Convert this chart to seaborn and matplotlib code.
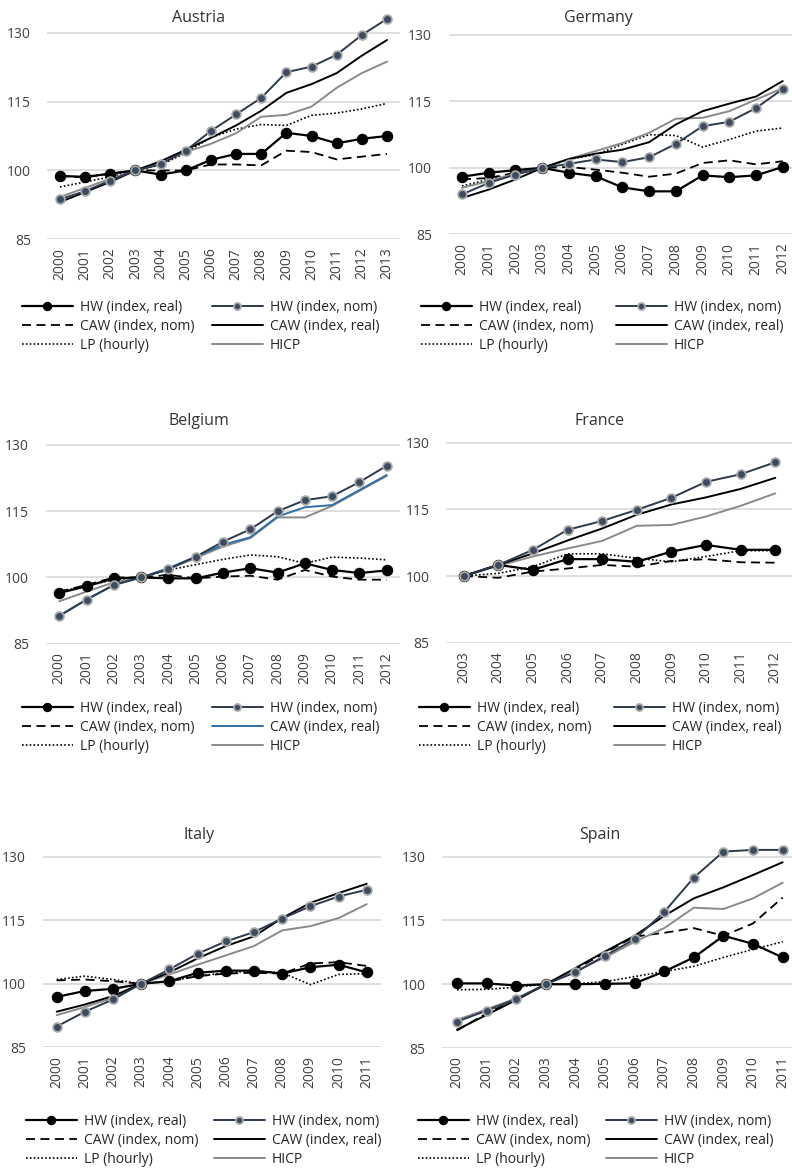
import numpy as np
import pandas as pd
import matplotlib
matplotlib.use("Agg")
import matplotlib.pyplot as plt
import seaborn as sns

# values (index, 2003 = 100)
aut_years = list(range(2000, 2014))
aut_hw_real = [98.8, 98.6, 99.3, 100, 99.1, 100, 102.3, 103.6, 103.6, 108.2, 107.5, 105.9, 106.9, 107.5]
aut_hw_nom = [93.7, 95.5, 97.8, 100, 101.3, 104.3, 108.6, 112.2, 115.8, 121.4, 122.6, 125.2, 129.5, 133.0]
aut_caw_nom = [98.8, 98.5, 99.3, 100, 100, 100, 101.3, 101.3, 101.1, 104.3, 104.0, 102.4, 103.0, 103.6]
aut_caw_real = [93.1, 95.3, 97.5, 100, 102.0, 104.5, 107.1, 109.8, 113.0, 116.9, 118.8, 121.2, 125.0, 128.4]
aut_lp = [96.4, 97.5, 98.6, 100, 101.2, 103.8, 107.2, 109.0, 110.0, 109.8, 112.0, 112.5, 113.4, 114.6]
aut_hicp = [94.2, 96.2, 98.2, 100, 101.8, 104.0, 105.8, 108.1, 111.7, 112.1, 113.9, 118.0, 121.2, 123.7]

deu_years = list(range(2000, 2013))
deu_hw_real = [98.0, 98.9, 99.5, 100, 98.9, 98.1, 95.6, 94.7, 94.7, 98.3, 97.9, 98.3, 100.2]
deu_hw_nom = [94.0, 96.6, 98.5, 100, 100.9, 101.9, 101.3, 102.4, 105.4, 109.4, 110.4, 113.5, 117.8]
deu_caw_nom = [97.4, 97.7, 98.9, 100, 100.2, 99.6, 98.9, 98.0, 98.7, 101.1, 101.7, 100.8, 101.5]
deu_caw_real = [93.2, 95.1, 97.4, 100, 102.0, 103.2, 104.1, 105.8, 109.8, 112.8, 114.5, 116.1, 119.6]
deu_lp = [95.9, 97.4, 98.5, 100, 101.9, 103.0, 105.3, 107.5, 107.3, 104.7, 106.4, 108.3, 109.0]
deu_hicp = [95.5, 97.0, 98.7, 100, 102.0, 103.8, 105.6, 107.9, 111.1, 111.3, 112.8, 115.4, 118.0]

bel_years = list(range(2000, 2013))
bel_hw_real = [96.5, 98.0, 99.8, 100, 99.8, 99.8, 101.1, 102.1, 101.1, 103.2, 101.7, 101.0, 101.6]
bel_hw_nom = [91.3, 95.0, 98.3, 100, 101.9, 104.7, 108.1, 110.9, 115.0, 117.5, 118.4, 121.6, 125.3]
bel_caw_nom = [96.8, 98.3, 100.0, 100, 100.6, 99.8, 100.2, 100.4, 99.5, 101.7, 100.2, 99.5, 99.5]
bel_caw_real = [91.3, 95.0, 98.3, 100, 102.1, 104.7, 107.4, 109.1, 113.8, 115.9, 116.4, 119.8, 123.2]
bel_lp = [96.8, 98.1, 99.5, 100, 101.7, 102.9, 104.1, 105.1, 104.7, 103.2, 104.6, 104.4, 104.0]
bel_hicp = [94.6, 96.8, 98.9, 100, 101.9, 104.4, 107.0, 108.9, 113.6, 113.6, 116.2, 119.6, 123.0]

fra_years = list(range(2003, 2013))
fra_hw_real = [100, 102.5, 101.4, 103.8, 103.8, 103.2, 105.5, 107.0, 105.9, 105.9]
fra_hw_nom = [100, 102.5, 105.9, 110.4, 112.4, 114.9, 117.6, 121.2, 122.9, 125.6]
fra_caw_nom = [100, 99.6, 101.0, 101.7, 102.5, 102.1, 103.4, 103.8, 103.1, 103.0]
fra_caw_real = [100, 102.5, 105.1, 108.0, 110.7, 113.8, 116.1, 117.7, 119.6, 122.1]
fra_lp = [100, 100.6, 102.1, 105.0, 105.0, 104.0, 103.2, 104.4, 105.7, 105.7]
fra_hicp = [100, 102.3, 104.4, 106.2, 107.9, 111.3, 111.5, 113.4, 115.8, 118.6]

ita_years = list(range(2000, 2012))
ita_hw_real = [96.9, 98.3, 98.8, 100, 100.6, 102.6, 103.1, 103.1, 102.4, 103.9, 104.5, 102.7]
ita_hw_nom = [89.9, 93.4, 96.3, 100, 103.4, 107.1, 110.0, 112.2, 115.4, 118.3, 120.6, 122.2]
ita_caw_nom = [100.8, 101.0, 100.6, 100, 100.6, 101.8, 102.4, 102.6, 102.4, 104.8, 105.1, 104.2]
ita_caw_real = [93.4, 95.1, 97.1, 100, 102.7, 106.0, 108.9, 111.2, 115.5, 119.1, 121.4, 123.6]
ita_lp = [101.0, 101.8, 101.0, 100, 100.6, 101.8, 102.6, 103.0, 102.6, 99.8, 102.2, 102.4]
ita_hicp = [92.6, 94.5, 96.7, 100, 102.2, 104.5, 106.7, 108.9, 112.6, 113.6, 115.5, 118.8]

esp_years = list(range(2000, 2012))
esp_hw_real = [100.2, 100.2, 99.7, 100, 100.0, 100.1, 100.2, 103.0, 106.3, 111.4, 109.5, 106.3]
esp_hw_nom = [91.2, 93.8, 96.5, 100, 102.8, 106.7, 110.6, 117.0, 125.1, 131.2, 131.6, 131.6]
esp_caw_nom = [89.1, 93.2, 96.3, 100, 103.5, 107.4, 111.2, 112.1, 113.2, 111.4, 114.3, 120.4]
esp_caw_real = [89.3, 92.8, 96.3, 100, 103.8, 107.7, 111.4, 116.1, 120.2, 122.8, 125.7, 128.7]
esp_lp = [98.7, 98.8, 99.3, 100, 100.1, 100.6, 101.8, 103.0, 104.2, 106.3, 108.2, 110.0]
esp_hicp = [91.6, 94.1, 96.7, 100, 103.1, 106.3, 110.0, 113.2, 118.0, 117.7, 120.2, 123.9]

countries = ["Austria", "Germany", "Belgium", "France", "Italy", "Spain"]
series_names = ["HW (index, real)", "HW (index, nom)", "CAW (index, nom)",
                "CAW (index, real)", "LP (hourly)", "HICP"]
y_ticks = [85, 100, 115, 130]

data = {
    "Austria": (aut_years, [aut_hw_real, aut_hw_nom, aut_caw_nom, aut_caw_real, aut_lp, aut_hicp]),
    "Germany": (deu_years, [deu_hw_real, deu_hw_nom, deu_caw_nom, deu_caw_real, deu_lp, deu_hicp]),
    "Belgium": (bel_years, [bel_hw_real, bel_hw_nom, bel_caw_nom, bel_caw_real, bel_lp, bel_hicp]),
    "France": (fra_years, [fra_hw_real, fra_hw_nom, fra_caw_nom, fra_caw_real, fra_lp, fra_hicp]),
    "Italy": (ita_years, [ita_hw_real, ita_hw_nom, ita_caw_nom, ita_caw_real, ita_lp, ita_hicp]),
    "Spain": (esp_years, [esp_hw_real, esp_hw_nom, esp_caw_nom, esp_caw_real, esp_lp, esp_hicp]),
}

# pixel layout: first point x, last point x, y of 130 line, y of 85 line,
# title centre x/y, legend column x's, first legend row y
layout = {
    "Austria": dict(x0=60, x1=387, y130=32.7, y85=239.3, tx=199, ty=18, lx=(22, 212), ly=310),
    "Germany": dict(x0=462, x1=782.7, y130=35, y85=234.3, tx=598, ty=18, lx=(421, 616), ly=310),
    "Belgium": dict(x0=59.3, x1=386.7, y130=445, y85=643.7, tx=199, ty=421, lx=(22, 212), ly=711),
    "France": dict(x0=463.7, x1=775.3, y130=442.7, y85=642.7, tx=600, ty=421, lx=(419, 614), ly=711),
    "Italy": dict(x0=56.7, x1=366.7, y130=856.7, y85=1047.3, tx=199, ty=835, lx=(26, 214), ly=1124),
    "Spain": dict(x0=457, x1=782.7, y130=856.7, y85=1048, tx=600, ty=835, lx=(418, 606), ly=1124),
}

W, H = 792, 1173

sns.set_style("white")
plt.rcParams['font.family'] = ['Open Sans', 'DejaVu Sans']

fig = plt.figure(figsize=(W / 100, H / 100), dpi=100)

text_col = "#404040"
nom_line = "#2d394c"
nom_face = "#3d4b60"
nom_edge = "#a8a8a8"

for c in countries:
    years, vals = data[c]
    L = layout[c]
    n = len(years)
    step = (L["x1"] - L["x0"]) / (n - 1)
    left = L["x0"] - step / 2
    right = min(L["x1"] + step / 2, W - 0.5)
    ppu = (L["y85"] - L["y130"]) / 45.0
    top = L["y130"] - 5 * ppu  # room for values above 130
    ax = fig.add_axes([left / W, 1 - L["y85"] / H, (right - left) / W, (L["y85"] - top) / H])

    caw_real_col = "#2f6ea6" if c == "Belgium" else "black"
    styles = [
        dict(color="black", lw=1.6, marker="o", markersize=7.5, markeredgecolor="black", zorder=5),
        dict(color=nom_line, lw=1.4, marker="o", markersize=6.3, markerfacecolor=nom_face,
             markeredgecolor=nom_edge, markeredgewidth=1.3, zorder=6),
        dict(color="black", lw=1.3, linestyle=(0, (5, 3)), zorder=3),
        dict(color=caw_real_col, lw=1.4, zorder=4),
        dict(color="black", lw=1.2, linestyle=(0, (1, 1.3)), zorder=3),
        dict(color="#8a8a8a", lw=1.4, zorder=3),
    ]
    for name, v, st in zip(series_names, vals, styles):
        sns.lineplot(x=years, y=v, ax=ax, label=name, legend=False, clip_on=False, **st)

    ax.set_xlim(years[0] - 0.5, years[-1] + (right - L["x1"]) / step)
    ax.set_ylim(85, 135)
    ax.set_yticks(y_ticks)
    ax.set_xticks(years)
    ax.set_xticklabels([str(y) for y in years], rotation=90)
    ax.set_xlabel("")
    ax.set_ylabel("")
    ax.yaxis.grid(True, color="#d9d9d9", lw=1.2)
    ax.xaxis.grid(False)
    ax.set_axisbelow(True)
    for sp in ax.spines.values():
        sp.set_visible(False)
    ax.tick_params(axis="both", length=0, labelsize=10, colors=text_col)
    ax.tick_params(axis="y", pad=12)
    ax.tick_params(axis="x", pad=6)

    fig.text(L["tx"] / W, 1 - L["ty"] / H, c, ha="center", va="center", fontsize=11.5, color="#333333")

    handles, labels = ax.get_legend_handles_labels()
    hmap = dict(zip(labels, handles))
    cols = [[series_names[0], series_names[2], series_names[4]],
            [series_names[1], series_names[3], series_names[5]]]
    for lx, names in zip(L["lx"], cols):
        fig.legend([hmap[nm] for nm in names], names, loc="upper left",
                   bbox_to_anchor=(lx / W, 1 - (L["ly"] - 10) / H), frameon=False,
                   borderpad=0, borderaxespad=0, handlelength=3.65, handletextpad=0.5,
                   labelspacing=0.3, fontsize=10, labelcolor="#262626", markerscale=0.8)

fig.savefig("out.png", dpi=100)
